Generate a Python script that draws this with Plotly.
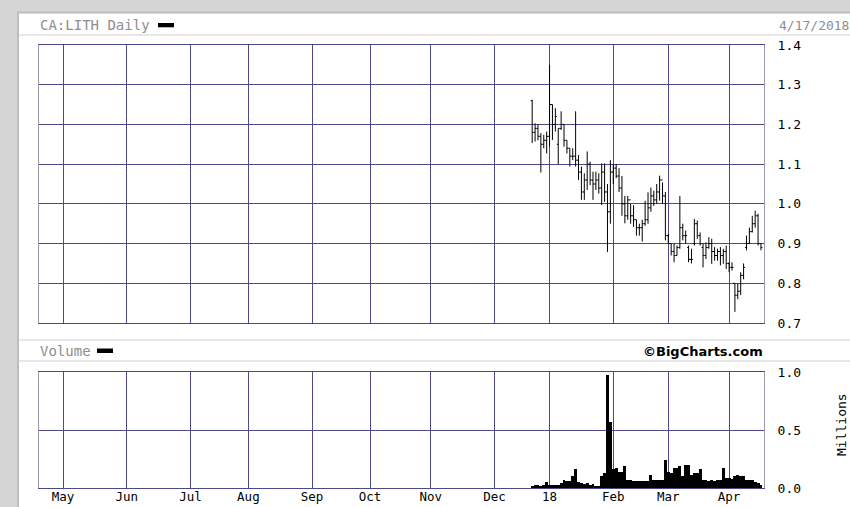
import pandas as pd
import plotly.graph_objects as go

# ---------------- calendar (TSX trading days) ----------------
holidays = ["2017-05-22", "2017-07-03", "2017-08-07", "2017-09-04", "2017-10-09",
            "2017-12-25", "2017-12-26", "2018-01-01", "2018-02-19", "2018-03-30"]
trading_days = [d for d in pd.bdate_range("2017-04-19", "2018-04-17")
                if d.strftime("%Y-%m-%d") not in holidays]
pos = {d.strftime("%Y-%m-%d"): i for i, d in enumerate(trading_days)}

month_keys = ["2017-05", "2017-06", "2017-07", "2017-08", "2017-09", "2017-10",
              "2017-11", "2017-12", "2018-01", "2018-02", "2018-03", "2018-04"]
month_labels = ["May", "Jun", "Jul", "Aug", "Sep", "Oct", "Nov", "Dec", "18", "Feb", "Mar", "Apr"]

# ---------------- data ----------------
dates = ["2017-12-20", "2017-12-21", "2017-12-22", "2017-12-27", "2017-12-28", "2017-12-29",
         "2018-01-02", "2018-01-03", "2018-01-04", "2018-01-05", "2018-01-08", "2018-01-09",
         "2018-01-10", "2018-01-11", "2018-01-12", "2018-01-15", "2018-01-16", "2018-01-17",
         "2018-01-18", "2018-01-19", "2018-01-22", "2018-01-23", "2018-01-24", "2018-01-25",
         "2018-01-26", "2018-01-29", "2018-01-30", "2018-01-31",
         "2018-02-01", "2018-02-02", "2018-02-05", "2018-02-06", "2018-02-07", "2018-02-08",
         "2018-02-09", "2018-02-12", "2018-02-13", "2018-02-14", "2018-02-15", "2018-02-16",
         "2018-02-20", "2018-02-21", "2018-02-22", "2018-02-23", "2018-02-26", "2018-02-27",
         "2018-02-28",
         "2018-03-01", "2018-03-02", "2018-03-05", "2018-03-06", "2018-03-07", "2018-03-08",
         "2018-03-09", "2018-03-12", "2018-03-13", "2018-03-14", "2018-03-15", "2018-03-16",
         "2018-03-19", "2018-03-20", "2018-03-21", "2018-03-22", "2018-03-23", "2018-03-26",
         "2018-03-27", "2018-03-28", "2018-03-29",
         "2018-04-02", "2018-04-03", "2018-04-04", "2018-04-05", "2018-04-06", "2018-04-09",
         "2018-04-10", "2018-04-11", "2018-04-12", "2018-04-13", "2018-04-16", "2018-04-17"]

open_ = [1.26, 1.18, 1.19, 1.17, 1.15, 1.16,
         1.17, 1.25, 1.20, 1.15, 1.19, 1.20,
         1.16, 1.14, 1.12, 1.12, 1.11, 1.08,
         1.03, 1.06, 1.10, 1.06, 1.05, 1.06,
         1.04, 1.08, 1.03, 0.98,
         1.08, 1.09, 1.07, 1.04, 1.00, 0.97,
         1.01, 0.97, 0.96, 0.94, 0.94, 0.95,
         0.96, 0.99, 1.02, 1.01, 1.03, 1.06,
         1.02,
         0.92, 0.90, 0.88, 0.87, 0.89, 0.94,
         0.92, 0.89, 0.86, 0.90, 0.95, 0.92,
         0.89, 0.87, 0.89, 0.90, 0.88, 0.87,
         0.88, 0.87, 0.88,
         0.85, 0.84, 0.80, 0.77, 0.78, 0.82,
         0.89, 0.90, 0.93, 0.95, 0.97, 0.90]

high = [1.262, 1.203, 1.200, 1.178, 1.174, 1.182,
        1.350, 1.250, 1.241, 1.190, 1.233, 1.200,
        1.160, 1.140, 1.140, 1.233, 1.123, 1.094,
        1.077, 1.132, 1.106, 1.081, 1.081, 1.077,
        1.102, 1.102, 1.050, 1.110,
        1.100, 1.100, 1.090, 1.070, 1.020, 1.020,
        1.000, 0.997, 0.960, 0.950, 0.960, 1.008,
        1.029, 1.041, 1.033, 1.050, 1.071, 1.054,
        1.030,
        0.924, 0.900, 0.900, 0.895, 1.020, 0.950,
        0.933, 0.895, 0.887, 0.962, 0.958, 0.928,
        0.900, 0.903, 0.916, 0.912, 0.891, 0.887,
        0.891, 0.887, 0.895,
        0.853, 0.853, 0.800, 0.800, 0.828, 0.850,
        0.920, 0.940, 0.970, 0.983, 0.975, 0.900]

low = [1.153, 1.157, 1.160, 1.079, 1.140, 1.127,
       1.144, 1.161, 1.182, 1.100, 1.186, 1.144,
       1.127, 1.094, 1.110, 1.094, 1.060, 1.010,
       1.010, 1.035, 1.047, 1.010, 1.035, 1.026,
       0.997, 1.005, 0.879, 0.950,
       1.050, 1.065, 1.030, 0.970, 0.951, 0.960,
       0.950, 0.942, 0.920, 0.920, 0.905, 0.945,
       0.950, 0.980, 0.995, 1.000, 1.008, 1.000,
       0.908,
       0.900, 0.870, 0.853, 0.870, 0.887, 0.908,
       0.900, 0.853, 0.850, 0.895, 0.912, 0.895,
       0.840, 0.861, 0.887, 0.849, 0.857, 0.857,
       0.845, 0.849, 0.836,
       0.828, 0.832, 0.728, 0.760, 0.770, 0.810,
       0.883, 0.900, 0.928, 0.940, 0.895, 0.883]

close = [1.18, 1.19, 1.17, 1.15, 1.16, 1.17,
         1.25, 1.20, 1.22, 1.19, 1.20, 1.16,
         1.14, 1.12, 1.12, 1.11, 1.08, 1.03,
         1.06, 1.10, 1.06, 1.05, 1.06, 1.04,
         1.08, 1.03, 0.98, 1.08,
         1.09, 1.07, 1.04, 1.00, 0.97, 1.01,
         0.97, 0.96, 0.94, 0.94, 0.95, 0.96,
         0.99, 1.02, 1.01, 1.03, 1.06, 1.02,
         0.92,
         0.90, 0.88, 0.87, 0.89, 0.94, 0.92,
         0.92, 0.86, 0.86, 0.95, 0.92, 0.90,
         0.87, 0.89, 0.90, 0.88, 0.87, 0.88,
         0.87, 0.88, 0.85,
         0.84, 0.84, 0.77, 0.78, 0.82, 0.84,
         0.90, 0.93, 0.95, 0.97, 0.90, 0.89]

volume_m = [0.02, 0.03, 0.03, 0.02, 0.03, 0.05,
            0.03, 0.03, 0.03, 0.03, 0.04, 0.07,
            0.06, 0.06, 0.10, 0.16, 0.05, 0.04,
            0.035, 0.04, 0.03, 0.035, 0.015, 0.02,
            0.10, 0.13, 0.97, 0.57,
            0.16, 0.17, 0.14, 0.14, 0.19, 0.07,
            0.07, 0.06, 0.06, 0.06, 0.06, 0.06,
            0.06, 0.11, 0.07, 0.07, 0.07, 0.07,
            0.24,
            0.14, 0.13, 0.17, 0.17, 0.19, 0.10,
            0.20, 0.20, 0.11, 0.13, 0.13, 0.16,
            0.07, 0.07, 0.06, 0.07, 0.06, 0.07,
            0.07, 0.17, 0.09,
            0.09, 0.08, 0.10, 0.11, 0.10, 0.10,
            0.07, 0.07, 0.07, 0.05, 0.04, 0.03]

price_ticks = [0.7, 0.8, 0.9, 1.0, 1.1, 1.2, 1.3, 1.4]
volume_ticks = [0.0, 0.5, 1.0]

# ---------------- derived positions ----------------
x_idx = [pos[d] for d in dates]
month_pos = []
for mk in month_keys:
    month_pos.append(min(i for i, d in enumerate(trading_days) if d.strftime("%Y-%m") == mk))

W, H = 850, 507
def px(x):
    return x / W
def py(y):
    return 1 - y / H

GRID = "#4a4a8a"
SIDE = "#9a9aa8"
HEAD = "#8e8e8e"
BG = "#d6d6d6"
MONO = "DejaVu Sans Mono"

fig = go.Figure()
fig.add_trace(go.Ohlc(
    x=x_idx, open=open_, high=high, low=low, close=close,
    increasing=dict(line=dict(color="black", width=1)),
    decreasing=dict(line=dict(color="black", width=1)),
    tickwidth=0.5, xaxis="x", yaxis="y", showlegend=False, hoverinfo="skip"))
fig.add_trace(go.Bar(
    x=x_idx, y=volume_m, width=1.0, marker=dict(color="black", line=dict(width=0)),
    xaxis="x2", yaxis="y2", showlegend=False, hoverinfo="skip"))

xr = [-0.3, 250.05]
common_x = dict(range=xr, tickmode="array", tickvals=month_pos, showgrid=True,
                gridcolor=GRID, gridwidth=1, showline=True, linecolor=GRID,
                linewidth=1, mirror=True, zeroline=False, fixedrange=True,
                automargin=False)

fig.update_layout(
    width=W, height=H, autosize=False, margin=dict(l=0, r=0, t=0, b=0, pad=0),
    paper_bgcolor=BG, plot_bgcolor="white",
    xaxis=dict(domain=[px(39), px(764)], anchor="y", showticklabels=False,
               rangeslider=dict(visible=False), **common_x),
    yaxis=dict(domain=[py(323), py(45)], range=[0.7, 1.4], tickmode="array",
               tickvals=price_ticks, ticktext=[f"{v:.1f}" for v in price_ticks],
               side="right", anchor="x", showgrid=True, gridcolor=GRID,
               showline=True, linecolor=SIDE, mirror=True, zeroline=False,
               ticks="outside", ticklen=10, tickcolor="rgba(0,0,0,0)", fixedrange=True,
               automargin=False,
               tickfont=dict(family=MONO, size=13, color="black")),
    xaxis2=dict(domain=[px(39), px(764)], anchor="y2", showticklabels=True,
                ticktext=month_labels, ticks="", ticklabelstandoff=-3,
                tickfont=dict(family=MONO, size=12.5, color="black"), **common_x),
    yaxis2=dict(domain=[py(488), py(372)], range=[0, 1.0], tickmode="array",
                tickvals=volume_ticks, ticktext=[f"{v:.1f}" for v in volume_ticks],
                side="right", anchor="x2", showgrid=True, gridcolor=GRID,
                showline=True, linecolor=SIDE, mirror=True, zeroline=False,
                ticks="outside", ticklen=10, tickcolor="rgba(0,0,0,0)", fixedrange=True,
                automargin=False,
                tickfont=dict(family=MONO, size=13, color="black")),
    bargap=0,
)

shapes = [
    # white panel
    dict(type="rect", xref="paper", yref="paper", x0=px(18), x1=px(852), y0=py(509), y1=py(12.5),
         fillcolor="white", line=dict(color="#bdbdbd", width=2), layer="below"),
    # header separators
    dict(type="line", xref="paper", yref="paper", x0=px(18), x1=px(851), y0=py(35), y1=py(35),
         line=dict(color="#cfcfcf", width=1)),
    dict(type="line", xref="paper", yref="paper", x0=px(18), x1=px(851), y0=py(340), y1=py(340),
         line=dict(color="#cfcfcf", width=1)),
    dict(type="line", xref="paper", yref="paper", x0=px(18), x1=px(851), y0=py(361), y1=py(361),
         line=dict(color="#cfcfcf", width=1)),
    # legend dashes
    dict(type="rect", xref="paper", yref="paper", x0=px(158), x1=px(174), y0=py(27.3), y1=py(23),
         fillcolor="black", line=dict(width=0)),
    dict(type="rect", xref="paper", yref="paper", x0=px(97), x1=px(113), y0=py(353), y1=py(348.5),
         fillcolor="black", line=dict(width=0)),
]
fig.update_layout(shapes=shapes)

annotations = [
    dict(text="CA:LITH Daily", x=px(38), y=py(25), xanchor="left", yanchor="middle",
         font=dict(family=MONO, size=14, color=HEAD)),
    dict(text="4/17/2018", x=px(777), y=py(25), xanchor="left", yanchor="middle",
         font=dict(family=MONO, size=13, color=HEAD)),
    dict(text="Volume", x=px(38), y=py(351), xanchor="left", yanchor="middle",
         font=dict(family=MONO, size=14, color=HEAD)),
    dict(text="<b>©BigCharts.com</b>", x=px(765), y=py(351), xanchor="right", yanchor="middle",
         font=dict(family="DejaVu Sans", size=13, color="black")),
    dict(text="Millions", x=px(841), y=py(425), xanchor="center", yanchor="middle",
         textangle=-90, font=dict(family=MONO, size=13, color="black")),
]
for a in annotations:
    a.update(xref="paper", yref="paper", showarrow=False)
fig.update_layout(annotations=annotations)

page_js = ("document.documentElement.style.margin='0';"
           "document.body.style.margin='0';"
           "document.body.style.overflow='hidden';"
           "document.body.style.background='" + BG + "';")
fig.write_html("out.html", post_script=page_js,
               config={"displayModeBar": False, "responsive": False, "staticPlot": True})
